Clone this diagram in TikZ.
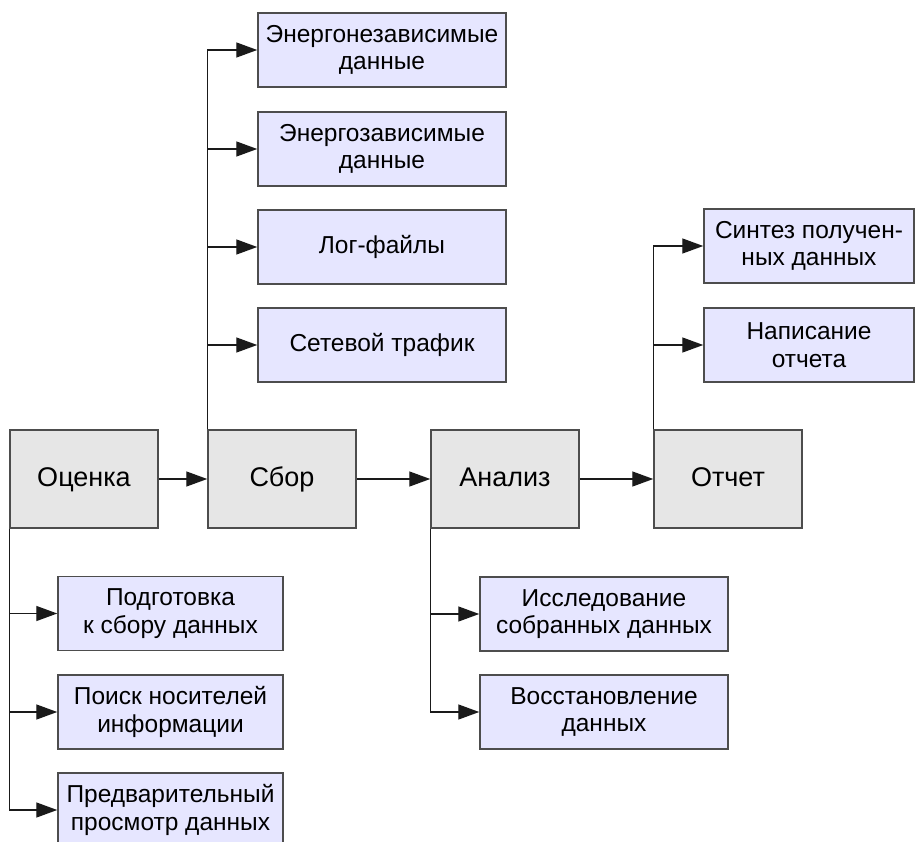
\documentclass[tikz,border=0pt]{standalone}
\usepackage{fontspec}
\setmainfont{Liberation Sans}
\usetikzlibrary{arrows.meta}
\definecolor{mainfill}{HTML}{E6E6E6}
\definecolor{childfill}{HTML}{E6E6FF}
\definecolor{edge}{HTML}{4D4D4D}
\definecolor{linec}{HTML}{1A1A1A}
\begin{document}
\begin{tikzpicture}[x=1pt,y=-1pt,
  mainbox/.style={draw=edge,line width=1.5pt,fill=mainfill,minimum width=148pt,minimum height=98pt,inner sep=0pt,font=\fontsize{27}{31}\selectfont,text height=19pt,text depth=5pt},
  childbox/.style={draw=edge,line width=1.5pt,fill=childfill,minimum height=74pt,inner sep=0pt,font=\fontsize{24.5}{27.5}\selectfont,align=center},
  arr/.style={draw=linec,line width=1.4pt,-{Triangle[length=21pt,width=15pt]}},
  conn/.style={draw=linec,line width=1.4pt}]
\useasboundingbox (0,0) rectangle (916,842);
% main boxes
\node[mainbox] (ocenka) at (84,479) {Оценка};
\node[mainbox] (sbor) at (282,479) {Сбор};
\node[mainbox] (analiz) at (505,479) {Анализ};
\node[mainbox] (otchet) at (728,479) {Отчет};
% Sbor children
\node[childbox,minimum width=248pt] (s1) at (382,50) {Энергонезависимые\\данные};
\node[childbox,minimum width=248pt] (s2) at (382,149) {Энергозависимые\\данные};
\node[childbox,minimum width=248pt] (s3) at (382,247) {Лог-файлы};
\node[childbox,minimum width=248pt] (s4) at (382,345) {Сетевой трафик};
% Otchet children
\node[childbox,minimum width=210pt] (r1) at (809,246) {Синтез получен-\\ных данных};
\node[childbox,minimum width=210pt] (r2) at (809,345) {Написание\\отчета};
% Ocenka children
\node[childbox,minimum width=225pt] (o1) at (170.5,613.5) {Подготовка\\к сбору данных};
\node[childbox,minimum width=225pt] (o2) at (170.5,712) {Поиск носителей\\информации};
\node[childbox,minimum width=225pt] (o3) at (170.5,810) {Предварительный\\просмотр данных};
% Analiz children
\node[childbox,minimum width=248pt] (a1) at (604,614) {Исследование\\собранных данных};
\node[childbox,minimum width=248pt] (a2) at (604,712) {Восстановление\\данных};
% main arrows
\draw[arr] (ocenka.east) -- (sbor.west);
\draw[arr] (sbor.east) -- (analiz.west);
\draw[arr] (analiz.east) -- (otchet.west);
% branches
\draw[conn] (sbor.north west) -- (sbor.north west |- s1.west);
\foreach \c in {s1,s2,s3,s4} \draw[arr] (sbor.north west |- \c.west) -- (\c.west);
\draw[conn] (otchet.north west) -- (otchet.north west |- r1.west);
\foreach \c in {r1,r2} \draw[arr] (otchet.north west |- \c.west) -- (\c.west);
\draw[conn] (ocenka.south west) -- (ocenka.south west |- o3.west);
\foreach \c in {o1,o2,o3} \draw[arr] (ocenka.south west |- \c.west) -- (\c.west);
\draw[conn] (analiz.south west) -- (analiz.south west |- a2.west);
\foreach \c in {a1,a2} \draw[arr] (analiz.south west |- \c.west) -- (\c.west);
\end{tikzpicture}
\end{document}
